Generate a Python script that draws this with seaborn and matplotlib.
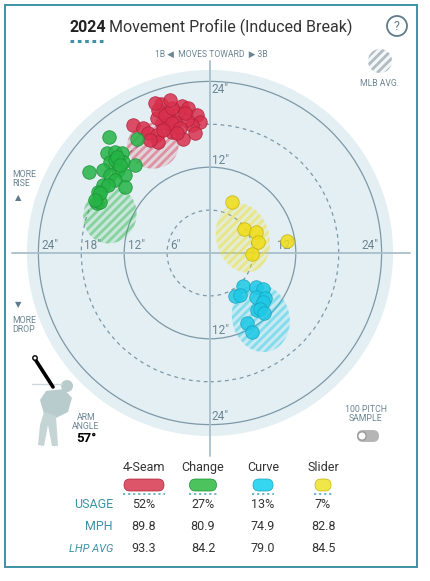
"""Movement profile (induced break) card, redrawn with seaborn."""

import matplotlib.patches as mpatches
import matplotlib.pyplot as plt
import pandas as pd
import seaborn as sns

PITCHES = ["4-Seam", "Change", "Curve", "Slider"]
USAGE = ["52%", "27%", "13%", "7%"]
MPH = ["89.8", "80.9", "74.9", "82.8"]
LHP_AVG = ["93.3", "84.2", "79.0", "84.5"]

# horizontal / induced vertical break, inches
FOUR_SEAM_X = [-6.9, -3.9, -3.1, -1.8, -1.4, -2.5, -2.1, -3.8, -5.3, -6.0, -6.7,
               -7.4, -7.3, -5.9, -4.5, -3.2, -4.9, -6.3, -10.8, -9.4, -8.7, -7.4,
               -7.3, -8.4, -5.3, -5.3, -5.6, -7.7, -4.2, -3.5, -6.6, -4.6]
FOUR_SEAM_Y = [20.8, 20.6, 20.3, 19.3, 18.3, 17.9, 16.8, 15.9, 16.9, 18.2, 18.2,
               18.9, 20.0, 19.6, 19.6, 18.6, 18.3, 19.3, 17.9, 17.5, 16.8, 16.5,
               15.5, 15.8, 18.2, 20.3, 21.4, 21.0, 17.5, 19.6, 17.2, 16.8]
CHANGE_X = [-14.1, -10.2, -14.4, -13.3, -12.3, -14.0, -13.3, -12.2, -16.9, -15.0,
            -12.9, -11.9, -14.0, -10.5, -13.3, -15.0, -11.9, -15.7, -15.8, -15.4,
            -14.3, -15.4, -16.1, -13.0, -12.6]
CHANGE_Y = [16.2, 15.9, 14.0, 14.1, 14.0, 12.7, 13.0, 12.7, 11.3, 11.6, 11.6,
            10.9, 10.9, 12.3, 10.2, 9.5, 9.2, 8.5, 7.0, 7.1, 9.5, 8.4, 7.4, 13.4,
            12.3]
CURVE_X = [4.6, 6.4, 7.4, 3.5, 4.2, 6.4, 7.7, 7.4, 6.6, 7.0, 7.6, 5.2, 5.9]
CURVE_Y = [-4.6, -4.8, -5.0, -6.0, -5.9, -6.1, -6.3, -6.8, -8.0, -7.8, -8.4,
           -9.8, -11.0]
SLIDER_X = [3.1, 4.8, 6.4, 6.7, 5.9, 10.8]
SLIDER_Y = [7.1, 3.4, 2.9, 1.5, -0.1, 1.7]

# MLB average movement ellipses, one per pitch
MLB_X = [-8.0, -14.0, 7.1, 4.6]
MLB_Y = [15.0, 5.3, -9.1, 2.1]
MLB_W = [7.2, 7.4, 8.0, 7.4]
MLB_H = [6.4, 8.0, 9.6, 9.8]
MLB_ANGLE = [0, -20, 15, 15]

RINGS = [6, 12, 18, 24]

COLORS = ["#d8304d", "#26b446", "#1fc9e6", "#f0dd16"]
EDGES = ["#b02039", "#1a9035", "#16a3bd", "#c4b410"]
PILLS = ["#dc5568", "#4cc35d", "#35d6f0", "#efe64a"]
PILL_W = [40, 27, 20, 16]
TABLE_X = [144, 203, 263, 323]

TEAL = "#3d92a5"
GRID = "#7f98a6"
LABEL = "#6c8593"
FONT = ["Roboto", "DejaVu Sans"]

PX = 7.15          # pixels per inch of break
CX, CY = 210, 253  # chart centre, pixels


def _main() -> None:
    sns.set_style("white")
    plt.rcParams["font.family"] = FONT
    plt.rcParams["hatch.linewidth"] = 2.0

    fig = plt.figure(figsize=(4.3, 5.81), dpi=100)

    # overlay in pixel units for the card furniture
    over = fig.add_axes([0, 0, 1, 1], zorder=0)
    over.set_xlim(0, 430)
    over.set_ylim(581, 0)
    over.axis("off")

    ax = fig.add_axes([10 / 430, (581 - 460) / 581, 400 / 430, 400 / 581],
                      zorder=1)
    ax.set_facecolor("none")

    ax.add_patch(mpatches.Circle((0, 0), 25.6, color="#e3eff3", lw=0, zorder=0))
    for r in RINGS:
        ax.add_patch(mpatches.Circle((0, 0), r, fill=False, ec=GRID, lw=0.9,
                                     ls=(0, (3, 3)) if r % 12 else "-",
                                     zorder=1))
    ax.plot([-27.7, 28.0], [0, 0], color="#a9bfcb", lw=1.3, zorder=1,
            clip_on=False)
    ax.plot([0, 0], [-28.4, 26.9], color="#a9bfcb", lw=1.3, zorder=1,
            clip_on=False)

    ring_labels = [(-22.4, 1.1), (-16.4, 1.1), (-10.3, 1.1), (-4.8, 1.1),
                   (10.5, 1.1), (22.4, 1.1), (1.4, 22.8), (1.4, 13.0),
                   (1.4, -10.8), (1.4, -22.8)]
    for (x, y), t in zip(ring_labels,
                         ["24", "18", "12", "6", "12", "24", "24", "12", "12",
                          "24"]):
        ax.text(x, y, t + '"', color=LABEL, fontsize=8.5, ha="center",
                va="center", zorder=2)

    for i in range(4):
        ax.add_patch(mpatches.Ellipse((MLB_X[i], MLB_Y[i]), MLB_W[i], MLB_H[i],
                                      angle=MLB_ANGLE[i], fc=COLORS[i],
                                      alpha=0.14, lw=0, zorder=2))
        ax.add_patch(mpatches.Ellipse((MLB_X[i], MLB_Y[i]), MLB_W[i], MLB_H[i],
                                      angle=MLB_ANGLE[i], fc="none",
                                      ec=COLORS[i], alpha=0.4, lw=0,
                                      hatch="////", zorder=2))

    df = pd.concat([
        pd.DataFrame({"hb": FOUR_SEAM_X, "ivb": FOUR_SEAM_Y, "pitch": "4-Seam"}),
        pd.DataFrame({"hb": CHANGE_X, "ivb": CHANGE_Y, "pitch": "Change"}),
        pd.DataFrame({"hb": CURVE_X, "ivb": CURVE_Y, "pitch": "Curve"}),
        pd.DataFrame({"hb": SLIDER_X, "ivb": SLIDER_Y, "pitch": "Slider"}),
    ])
    for i, p in enumerate(PITCHES):
        sns.scatterplot(data=df[df.pitch == p], x="hb", y="ivb", color=COLORS[i],
                        edgecolor=EDGES[i], linewidth=0.6, s=95, alpha=0.85,
                        legend=False, ax=ax, zorder=3)
    ax.set_xlim((10 - CX) / PX, (410 - CX) / PX)
    ax.set_ylim((CY - 460) / PX, (CY - 60) / PX)
    ax.axis("off")

    # card border
    over.add_patch(mpatches.Rectangle((5, 5), 412, 562, fill=False, ec=TEAL,
                                      lw=1.4))

    # title
    over.text(70, 27, "2024", fontsize=11.5, fontweight="bold", color="#222222",
              va="center", ha="left")
    over.text(109, 27, "Movement Profile (Induced Break)", fontsize=11.5,
              color="#333333", va="center", ha="left")
    over.plot([70, 106], [41, 41], color=TEAL, lw=2.2, ls=(0, (1.2, 1.2)))
    over.add_patch(mpatches.Circle((397, 26), 10, fill=False, ec="#5f7b89",
                                   lw=1.3))
    over.text(397, 26.5, "?", fontsize=9, color="#5f7b89", ha="center",
              va="center")

    over.text(211, 54, "1B ◀  MOVES TOWARD  ▶ 3B", fontsize=6.2, color=LABEL,
              ha="center", va="center")
    over.add_patch(mpatches.Circle((380, 61), 12, fc="#f4f6f7", ec="#b0bcc3",
                                   lw=0, hatch="////"))
    over.text(380, 83, "MLB AVG.", fontsize=6.2, color=LABEL, ha="center",
              va="center")

    over.text(12, 179, "MORE\nRISE", fontsize=6.3, color=LABEL, ha="left",
              va="center", linespacing=1.1)
    over.text(18, 198, "▲", fontsize=6, color="#5f7b89", ha="center",
              va="center")
    over.text(18, 305, "▼", fontsize=6, color="#5f7b89", ha="center",
              va="center")
    over.text(12, 325, "MORE\nDROP", fontsize=6.3, color=LABEL, ha="left",
              va="center", linespacing=1.1)

    # pitcher silhouette and arm angle
    body = "#b9cccd"
    over.plot([32, 62], [384, 384], color="#cfd9dc", lw=1.0)
    over.add_patch(mpatches.Circle((67, 386), 6, color=body, lw=0))
    over.add_patch(mpatches.Polygon([[46, 391], [64, 389], [72, 398], [68, 412],
                                     [56, 418], [44, 414], [40, 400]],
                                    color=body, lw=0))
    over.add_patch(mpatches.Polygon([[44, 412], [56, 416], [58, 446], [52, 446],
                                     [48, 425], [44, 446], [38, 445], [40, 425]],
                                    color="#c5d5d6", lw=0))
    over.plot([35, 53], [359, 387], color="black", lw=2.6,
              solid_capstyle="round")
    over.add_patch(mpatches.Circle((35, 358), 2.2, fc="white", ec="black",
                                   lw=1.0, zorder=5))
    over.text(86, 422, "ARM\nANGLE", fontsize=6.3, color=LABEL, ha="center",
              va="center", linespacing=1.1)
    over.text(86, 438, "57°", fontsize=9.5, fontweight="bold", color="black",
              ha="center", va="center")

    over.text(366, 414, "100 PITCH\nSAMPLE", fontsize=6.3, color=LABEL,
              ha="center", va="center", linespacing=1.1)
    over.add_patch(mpatches.FancyBboxPatch((357, 430), 22, 12,
                                           boxstyle="round,pad=0,rounding_size=6",
                                           fc="#b5b5b5", lw=0))
    over.add_patch(mpatches.Circle((362, 436), 4.2, fc="white", ec="#9a9a9a",
                                   lw=1.0, zorder=5))

    # table
    for i, p in enumerate(PITCHES):
        x = TABLE_X[i]
        over.text(x, 471, p, fontsize=9, color="#333333", ha="center",
                  va="baseline")
        w = PILL_W[i]
        over.add_patch(mpatches.FancyBboxPatch(
            (x - w / 2, 479), w, 12, boxstyle="round,pad=0,rounding_size=6",
            fc=PILLS[i], ec=EDGES[i], lw=0.5))
        over.plot([x - w / 2 - 1, x + w / 2 + 1], [494, 494], color="#5fb2c5",
                  lw=1.3, ls=(0, (1.2, 1.6)))
        over.text(x, 505, USAGE[i], fontsize=9, color="#333333", ha="center",
                  va="center")
        over.text(x, 527, MPH[i], fontsize=9, color="#333333", ha="center",
                  va="center")
        over.text(x, 549, LHP_AVG[i], fontsize=9, color="#333333", ha="center",
                  va="center")
    over.text(113, 505, "USAGE", fontsize=9, color=TEAL, ha="right",
              va="center")
    over.text(113, 527, "MPH", fontsize=9, color=TEAL, ha="right", va="center")
    over.text(113, 549, "LHP AVG", fontsize=8, color=TEAL, ha="right",
              va="center", style="italic")

    fig.savefig("out.png", dpi=100, facecolor="white")


if __name__ == "__main__":
    _main()
